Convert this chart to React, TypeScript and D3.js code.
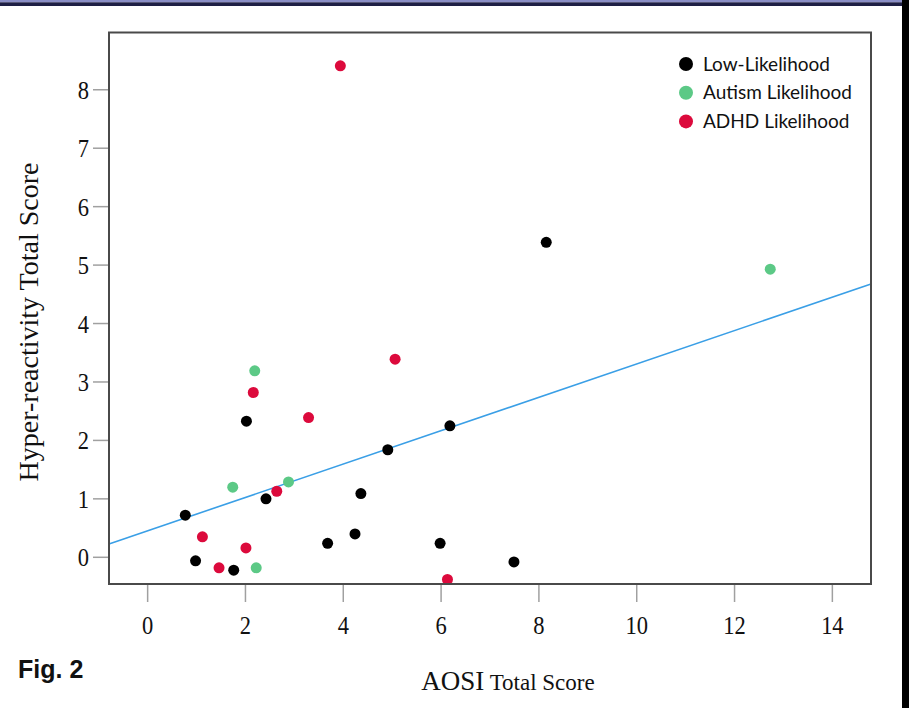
import React from "react";
import * as d3 from "d3";

const lowX = [0.77, 0.98, 1.76, 2.02, 2.42, 3.68, 4.24, 4.36, 4.91, 5.98, 6.18, 7.49, 8.15];
const lowY = [0.72, -0.06, -0.22, 2.33, 1.0, 0.24, 0.4, 1.09, 1.84, 0.24, 2.25, -0.08, 5.39];
const autX = [1.74, 2.19, 2.22, 2.88, 12.73];
const autY = [1.2, 3.19, -0.18, 1.29, 4.93];
const adhdX = [1.12, 1.46, 2.01, 2.16, 2.64, 3.29, 3.94, 5.06, 6.13];
const adhdY = [0.35, -0.18, 0.16, 2.82, 1.13, 2.39, 8.41, 3.39, -0.38];

const groupNames = ["Low-Likelihood", "Autism Likelihood", "ADHD Likelihood"];
const groupColors = ["#000000", "#5cc986", "#dc0a3c"];

const xTicks = [0, 2, 4, 6, 8, 10, 12, 14];
const yTicks = [0, 1, 2, 3, 4, 5, 6, 7, 8];
const fitIntercept = 0.4535;
const fitSlope = 0.2855;

const W = 909;
const H = 708;
const L = 109, R = 871, T = 32.5, B = 584;

export default function App() {
  const x = d3.scaleLinear().domain([-0.79, 14.79]).range([L, R]);
  const y = d3.scaleLinear().domain([-0.457, 8.98]).range([B, T]);
  const groups = [
    { xs: lowX, ys: lowY },
    { xs: autX, ys: autY },
    { xs: adhdX, ys: adhdY },
  ];
  const [x0, x1] = x.domain();
  const line = d3.line<number>().x((d) => x(d)).y((d) => y(fitIntercept + fitSlope * d));

  return (
    <svg width={W} height={H} style={{ position: "absolute", left: 0, top: 0, background: "#fff" }}>
      <rect x={0} y={0} width={W} height={H} fill="#fff" />
      <rect x={0} y={0} width={W} height={2.3} fill="#8a8ec6" />
      <rect x={0} y={2.3} width={W} height={3.7} fill="#1e1f45" />
      <rect x={902} y={0} width={7} height={H} fill="#000" />

      {yTicks.map((t) => (
        <g key={"y" + t}>
          <line x1={L - 16} x2={L} y1={y(t)} y2={y(t)} stroke="#a0a0a0" strokeWidth={1.5} />
          <text
            transform={`translate(89,${y(t)}) scale(0.9,1)`}
            dy="0.36em"
            textAnchor="end"
            fontFamily="Liberation Serif"
            fontSize={25}
            fill="#111"
          >
            {t}
          </text>
        </g>
      ))}
      {xTicks.map((t) => (
        <g key={"x" + t}>
          <line x1={x(t)} x2={x(t)} y1={B} y2={B + 18} stroke="#a0a0a0" strokeWidth={1.5} />
          <text
            transform={`translate(${x(t)},634) scale(0.9,1)`}
            textAnchor="middle"
            fontFamily="Liberation Serif"
            fontSize={25}
            fill="#111"
          >
            {t}
          </text>
        </g>
      ))}

      <path d={line([x0, x1]) || ""} stroke="#3a9fe6" strokeWidth={1.6} fill="none" />

      {groups.map((g, gi) =>
        g.xs.map((xv, i) => (
          <circle key={gi + "-" + i} cx={x(xv)} cy={y(g.ys[i])} r={5.5} fill={groupColors[gi]} />
        ))
      )}

      <rect x={L} y={T} width={R - L} height={B - T} fill="none" stroke="#4a4a4a" strokeWidth={2} />

      {groupNames.map((n, i) => (
        <g key={n}>
          <circle cx={686} cy={64 + i * 28.7} r={7} fill={groupColors[i]} />
          <text x={703} y={64 + i * 28.7} dy="0.35em" fontFamily="Lato" fontSize={19} fill="#111">
            {n}
          </text>
        </g>
      ))}

      <text
        transform="translate(38,322) rotate(-90)"
        textAnchor="middle"
        fontFamily="Liberation Serif"
        fontSize={28}
        fill="#111"
      >
        Hyper-reactivity Total Score
      </text>

      <text x={508} y={690} textAnchor="middle" fontFamily="Liberation Serif" fill="#111">
        <tspan fontSize={27}>AOSI</tspan>
        <tspan fontSize={23}> Total Score</tspan>
      </text>

      <text x={18} y={678} fontFamily="Liberation Sans" fontWeight="bold" fontSize={25} fill="#111">
        Fig. 2
      </text>
    </svg>
  );
}
